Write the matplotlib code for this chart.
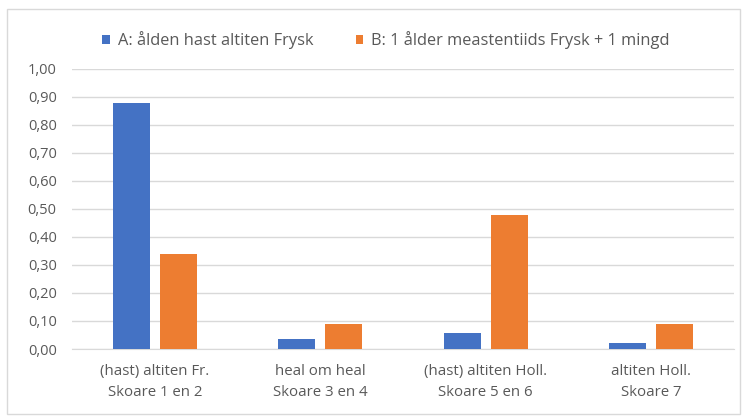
import matplotlib.pyplot as plt
import numpy as np
from matplotlib.patches import Rectangle

categories = ["(hast) altiten Fr.\nSkoare 1 en 2", "heal om heal\nSkoare 3 en 4",
              "(hast) altiten Holl.\nSkoare 5 en 6", "altiten Holl.\nSkoare 7"]
series_a = [0.88, 0.036, 0.058, 0.020]
series_b = [0.34, 0.090, 0.478, 0.090]
label_a = "A: ålden hast altiten Frysk"
label_b = "B: 1 ålder meastentiids Frysk + 1 mingd"
yticks = np.arange(0, 1.01, 0.1)

plt.rcParams['font.family'] = ['Open Sans', 'DejaVu Sans']
fig = plt.figure(figsize=(7.46, 4.19), dpi=100)
# light frame round the whole chart
fig.patches.append(Rectangle((7 / 746, 5 / 419), 733 / 746, 405 / 419, transform=fig.transFigure,
                             fill=False, edgecolor='#d9d9d9', lw=1))
ax = fig.add_axes([72 / 746, 1 - 349 / 419, 662 / 746, 280 / 419])

x = np.arange(len(categories))
w = 0.224
ax.bar(x - 0.142, series_a, w, color='#4472C4', label=label_a, zorder=3)
ax.bar(x + 0.142, series_b, w, color='#ED7D31', label=label_b, zorder=3)

ax.set_xlim(-0.5, len(categories) - 0.5)
ax.set_ylim(0, 1.0)
ax.set_yticks(yticks)
ax.set_yticklabels([f"{v:.2f}".replace('.', ',') for v in yticks])
ax.set_xticks(x)
ax.set_xticklabels(categories, linespacing=1.5)
ax.yaxis.grid(True, color='#d9d9d9', lw=1, zorder=0)
for s in ['top', 'right', 'left']:
    ax.spines[s].set_visible(False)
ax.spines['bottom'].set_color('#d9d9d9')
ax.tick_params(axis='both', length=0, colors='#595959')
ax.tick_params(axis='y', labelsize=10.5, pad=11)
ax.tick_params(axis='x', labelsize=10.8, pad=11)

fig.legend(loc='center', bbox_to_anchor=(386 / 746, 1 - 40 / 419), ncol=2, frameon=False,
           fontsize=11.8, labelcolor='#595959', handlelength=0.45, handleheight=0.45,
           handletextpad=0.5, columnspacing=2.6)

fig.savefig('out.png', dpi=100)
